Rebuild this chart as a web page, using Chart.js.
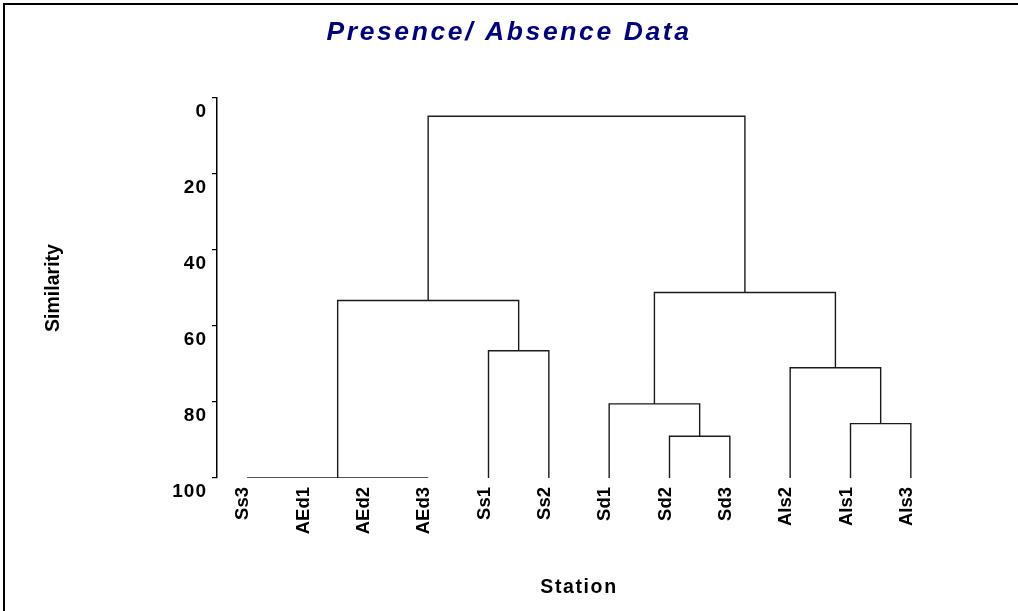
<!DOCTYPE html>
<html>
<head>
<meta charset="utf-8">
<title>Presence/ Absence Data</title>
<script src="https://cdn.jsdelivr.net/npm/chart.js@4.4.1/dist/chart.umd.min.js"></script>
<style>
  html, body { margin: 0; padding: 0; background: #fff; overflow: hidden; }
  #wrap { position: relative; width: 1018px; height: 611px; }
  #frame { position: absolute; left: 3px; top: 3px; right: 0; bottom: 0;
           border-top: 2px solid #000; border-left: 2px solid #000; pointer-events: none; }
</style>
</head>
<body>
<div id="wrap">
  <canvas id="myChart"></canvas>
  <div id="frame"></div>
</div>
<script>
const stations = ['Ss3', 'AEd1', 'AEd2', 'AEd3', 'Ss1', 'Ss2', 'Sd1', 'Sd2', 'Sd3', 'AIs2', 'AIs1', 'AIs3'];
const yTicks = [0, 20, 40, 60, 80, 100];

// one entry per join of the dendrogram: where the two branches stand (leaf units),
// the similarity each branch comes up from, and the similarity they join at
const joinLeftX  = [0,   4,    7,   6,    10,   9,    1.5,  6.75, 3];
const joinRightX = [3,   5,    8,   7.5,  11,   10.5, 4.5,  9.75, 8.25];
const joinLeftY  = [100, 100,  100, 100,  100,  100,  100,  80.5, 53.3];
const joinRightY = [100, 100,  100, 89,   100,  85.7, 66.5, 71,   51.2];
const joinLevel  = [100, 66.5, 89,  80.5, 85.7, 71,   53.3, 51.2, 4.8];

const FONT = 'Liberation Sans, Arial, sans-serif';

const datasets = joinLevel.map((level, i) => ({
    data: [
        {x: joinLeftX[i], y: joinLeftY[i]},
        {x: joinLeftX[i], y: level},
        {x: joinRightX[i], y: level},
        {x: joinRightX[i], y: joinRightY[i]}
    ],
    xAxisID: 'x',
    yAxisID: 'y',
    borderColor: '#1a1a1a',
    borderWidth: 1.4,
    pointRadius: 0,
    fill: false,
    tension: 0
}));

// the original text is drawn wider than Arial, so spread some of it a bit
function spaceOut(target, method, spacing) {
    if (!target || target['_spaced_' + method]) return;
    const orig = target[method];
    target[method] = function () {
        const ctx = this.ctx;
        ctx.save();
        ctx.letterSpacing = spacing;
        orig.apply(this, arguments);
        ctx.restore();
    };
    target['_spaced_' + method] = true;
}

const letterSpacing = {
    id: 'letterSpacing',
    afterLayout(chart) {
        spaceOut(chart.titleBlock, 'draw', '2.6px');
        spaceOut(chart.scales.x, 'drawTitle', '1.6px');
        spaceOut(chart.scales.y, 'drawLabels', '1px');
    }
};

const config = {
    type: 'line',
    data: { datasets },
    options: {
        responsive: true,
        maintainAspectRatio: false,
        animation: false,
        layout: { padding: 0 },
        plugins: {
            legend: { display: false },
            tooltip: { enabled: false },
            title: {
                display: true,
                text: 'Presence/ Absence Data',
                color: '#000080',
                font: { family: FONT, size: 26.5, weight: 'bold', style: 'italic' },
                padding: { top: 17, bottom: 49.2 }
            }
        },
        scales: {
            x: {
                type: 'linear',
                min: -0.5,
                max: 11.5,
                afterBuildTicks: (s) => { s.ticks = stations.map((n, i) => ({ value: i })); },
                afterFit: (s) => { s.height = 133; },
                ticks: {
                    callback: (v) => stations[v],
                    autoSkip: false,
                    minRotation: 90,
                    maxRotation: 90,
                    padding: 9,
                    labelOffset: -4,
                    color: '#000',
                    font: { family: FONT, size: 18.5, weight: 'bold' }
                },
                grid: { display: false, drawTicks: false },
                border: { display: false },
                title: {
                    display: true,
                    text: 'Station',
                    color: '#000',
                    font: { family: FONT, size: 19.5, weight: 'bold' },
                    padding: { top: 0, bottom: 12 }
                }
            },
            y: {
                type: 'linear',
                position: 'left',
                reverse: true,
                min: 0,
                max: 100,
                afterBuildTicks: (s) => { s.ticks = yTicks.map((v) => ({ value: v })); },
                afterFit: (s) => { s.width = 217; },
                ticks: {
                    color: '#000',
                    padding: 5,
                    labelOffset: 14,
                    font: { family: FONT, size: 19, weight: 'bold' }
                },
                grid: { drawOnChartArea: false, drawTicks: true, tickLength: 5, color: '#000', lineWidth: 1.2 },
                border: { display: true, color: '#000', width: 1.5 },
                title: {
                    display: true,
                    text: 'Similarity',
                    color: '#000',
                    font: { family: FONT, size: 19.5, weight: 'bold' },
                    padding: { top: 42, bottom: 0 }
                }
            },
            pad: {
                type: 'linear',
                position: 'right',
                afterFit: (s) => { s.width = 77; },
                ticks: { display: false },
                grid: { display: false },
                border: { display: false }
            }
        }
    },
    plugins: [letterSpacing]
};

const chart = new Chart(document.getElementById('myChart'), config);
chart.draw();
</script>
</body>
</html>
